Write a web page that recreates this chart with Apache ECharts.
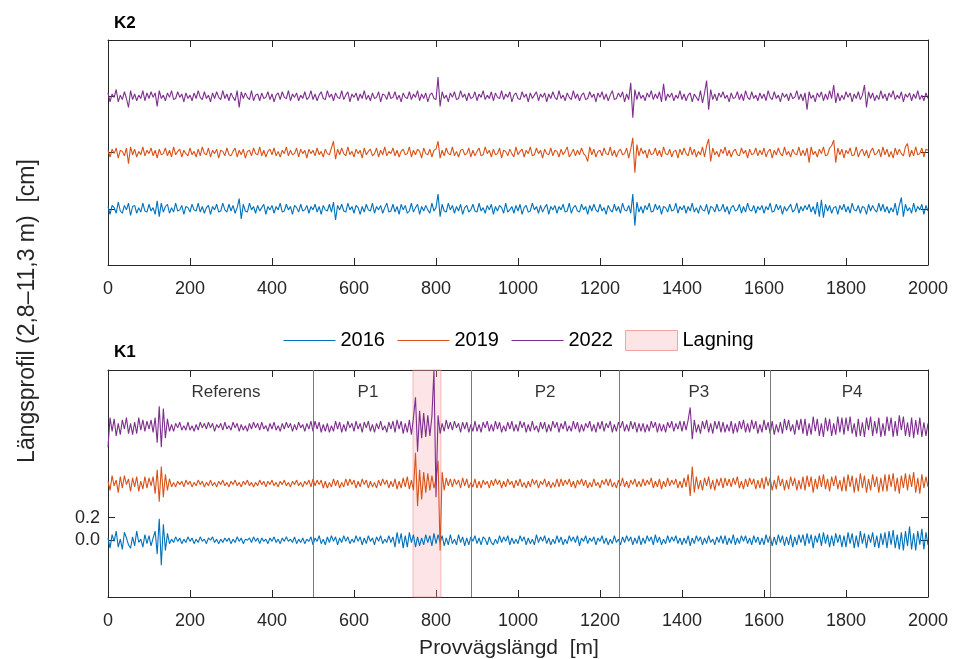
<!DOCTYPE html>
<html>
<head>
<meta charset="utf-8">
<script src="https://cdn.jsdelivr.net/npm/echarts@6/dist/echarts.min.js"></script>
<style>
  html, body { margin: 0; background: #fff; }
  #chart { width: 954px; height: 659px; }
</style>
</head>
<body>
<div id="chart"></div>
<script>
// sample spacing along the test road [m]
const STEP = 5
// profile values in 1/100 cm, one sample every STEP m from 0 to 2000 m (401 values)

const k2_2016 = [
  2,-5,3,1,-4,6,-2,-4,3,-1,5,-6,2,3,-4,1,-3,5,-2,-3,
  4,-2,1,-5,7,-7,5,-3,2,4,-4,1,-3,5,-2,-1,3,-5,2,1,
  -3,4,-1,-2,5,-3,2,-4,1,3,-5,2,-1,4,-3,-2,5,-1,-3,4,
  -2,3,-4,1,9,-9,4,-2,-3,5,-1,2,-4,3,-2,1,4,-5,2,-1,
  3,-4,2,-1,5,-3,-2,4,-1,2,-5,3,1,-3,4,-2,-1,3,-4,2,
  -1,4,-3,2,-5,3,-1,-2,4,-3,6,-10,3,-1,4,-2,-3,5,-1,2,
  -4,3,1,-5,2,-3,4,-1,-2,5,-4,2,-1,3,-4,1,5,-3,-2,4,
  -3,2,-5,4,-1,3,-4,-2,5,-3,1,4,-5,2,-2,3,-1,-4,5,-2,
  1,13,-7,4,-2,-3,5,-1,3,-4,2,-2,4,-5,1,3,-3,-1,4,-2,
  -3,5,-2,1,-4,3,-1,4,-5,2,-2,3,1,-4,5,-3,-1,2,-4,3,
  -2,4,-5,1,3,-3,-2,5,-1,2,-4,3,-3,1,4,-5,2,-1,3,-4,
  2,-1,4,-3,-2,5,-4,1,3,-2,-3,4,-1,2,-5,3,-2,4,-1,-3,
  4,-2,1,-5,3,-1,-3,4,-2,2,-4,5,-1,-2,3,-4,13,-15,6,-3,
  2,-4,3,-1,5,-3,-2,4,-1,3,-5,2,1,-3,4,-2,-1,5,-4,2,
  -1,3,-4,2,-2,5,-3,1,-4,3,-1,-2,4,-5,2,1,-3,4,-2,-1,
  4,-3,2,-5,1,3,-2,-1,4,-4,2,-3,5,-1,-2,3,-4,2,-1,3,
  -4,2,-1,5,-3,-2,4,-1,3,-5,2,-2,1,4,-3,-1,5,-4,2,-2,
  3,-1,4,-3,2,-5,6,-7,8,-8,4,-2,3,-4,1,2,-5,3,-1,4,
  -3,2,-4,5,-1,-2,3,-4,2,1,-5,4,-2,3,-1,-3,5,-2,4,-3,
  2,-4,1,-3,5,-6,3,10,-7,4,-2,1,-4,5,-3,2,-1,4,-5,3,
  -2
]

const k2_2019 = [
  2,-4,3,-1,4,-5,2,1,-3,4,-10,5,-2,3,-4,1,-2,5,-3,2,
  -1,4,-3,2,-5,3,-2,-1,4,-3,2,-4,5,-2,1,3,-4,2,-1,-3,
  4,-2,1,-4,3,-3,5,-1,-2,4,-4,2,-1,3,-5,2,1,-3,4,-2,
  -3,1,4,-4,2,-2,3,-5,1,2,-3,4,-1,-2,5,-3,2,-4,1,3,
  -2,4,-3,1,-4,2,-1,5,-3,2,-2,-1,4,-4,3,-1,2,-5,3,-1,
  2,-3,4,-2,1,-4,3,-1,-2,4,10,-6,3,-2,4,-1,-3,5,-2,1,
  -4,3,-1,2,-5,4,-2,1,3,-3,-1,4,-4,2,-2,5,-3,1,-1,4,
  -3,2,-4,1,3,-2,-1,5,-4,2,-2,3,1,-5,4,-1,-2,3,-4,2,
  3,10,-5,2,-3,4,-1,-2,5,-3,1,-4,2,3,-2,-1,4,-4,2,-3,
  1,4,-3,-2,5,-1,2,-4,3,-2,-1,4,-5,2,1,-3,3,-1,-4,5,
  -2,1,3,-4,2,-1,5,-3,-2,4,-1,2,-5,3,-1,-2,4,-3,2,1,
  -4,3,-2,1,5,-4,-1,3,-3,2,-2,4,-1,-3,-8,5,-2,3,-4,1,
  2,-3,4,-1,-2,5,-3,2,-4,1,3,-2,-1,4,-5,3,13,-18,7,-3,
  4,-1,2,-5,3,-2,-1,4,-3,2,-4,5,-1,-2,3,-4,1,2,-5,3,
  -2,4,-1,-3,5,-2,3,-4,1,-2,5,-4,6,12,-8,4,-2,1,-4,3,
  -1,5,-3,2,-4,1,3,-2,-3,4,-1,2,-5,3,-2,-1,4,-3,2,-2,
  4,-4,1,3,-5,2,-2,4,-1,-3,5,-2,1,-4,3,-1,-2,5,-3,2,
  -3,4,-9,5,-2,1,-4,3,-1,5,-3,-2,4,6,11,-9,4,-2,3,-5,
  2,-1,4,-3,-2,5,-4,1,3,-3,2,-5,1,4,-2,-1,3,-4,5,-2,
  3,-4,1,-5,4,-2,3,-1,-3,5,8,-4,2,-3,5,-2,-1,4,-4,3,
  2
]

const k2_2022 = [
  3,-5,2,-1,6,-5,1,-3,4,-2,-10,5,-3,2,-4,1,-2,5,-4,3,
  -2,4,-1,3,-9,5,-2,1,-4,3,-1,5,-3,-2,4,-1,2,-5,3,-2,
  1,-4,3,-2,5,-1,-3,4,-2,1,-5,3,-2,4,-1,-3,5,-2,2,-4,
  3,-1,-4,5,-10,4,-2,3,-1,-3,5,-4,1,2,-4,3,-2,-1,4,-3,
  2,-5,1,3,-3,4,-1,-2,5,-4,2,-1,3,-4,1,-2,4,-3,-1,5,
  -3,2,-4,1,4,-2,-3,5,-1,2,-4,3,-1,-2,5,-3,1,4,-5,2,
  -1,3,-4,2,-2,5,-3,1,-4,3,-2,-1,4,-5,2,1,-3,4,-2,-1,
  4,-3,1,-5,3,-1,-2,4,-3,2,-1,5,-4,2,-2,3,-5,1,3,-2,
  -3,17,-9,4,-2,1,-5,3,-1,4,-3,-2,5,-1,2,-4,3,-2,-1,4,
  -4,2,-1,5,-3,1,-2,4,-4,3,-1,-2,5,-3,2,-1,4,-5,1,3,
  -2,-3,4,-1,2,-5,3,-2,1,4,-4,2,-1,3,-5,2,-2,4,-1,-3,
  5,-2,1,-4,3,-1,-3,5,-2,2,-4,1,3,-3,-2,4,-1,2,-5,3,
  -1,4,-3,2,-4,1,5,-3,-2,3,-1,4,-5,2,-3,12,-19,6,-3,4,
  -2,1,-4,3,-1,5,-3,2,-2,4,-5,11,-4,2,-1,3,-4,1,-2,5,
  -3,2,-4,1,3,-5,2,-1,-4,5,-6,3,14,-12,6,-3,2,-4,3,-1,
  4,-2,1,-5,3,-2,-1,4,-3,2,-4,5,-1,-3,4,-2,1,-4,3,-2,
  2,-4,5,-1,-3,4,-2,1,-5,3,-1,2,-4,3,-2,-1,5,-3,2,-4,
  3,-12,4,-2,1,-5,3,-1,4,-4,2,-3,5,-2,10,-6,3,-4,1,-3,
  4,-1,3,-5,2,-2,4,-3,1,10,-10,4,-2,3,-4,1,-3,5,-2,2,
  -4,3,-1,5,-3,1,-2,4,-5,2,-1,3,-4,2,-2,5,-3,1,-4,3,
  -2
]

const k1_2016 = [
  2,-7,5,-1,8,-6,1,-8,7,2,-4,-7,3,-5,8,-2,1,-6,5,-3,
  4,-5,2,8,-12,19,-22,14,-9,6,-3,1,-2,3,-1,2,-3,1,-2,3,
  -1,2,-3,1,-2,3,-1,1,-3,2,0,3,-2,1,-3,1,-2,2,-1,2,
  -3,1,-2,3,-1,2,-3,1,0,2,-2,3,-1,2,-3,2,-1,1,-3,2,
  -1,3,-2,1,-3,2,-1,3,-1,1,-2,3,-3,1,-2,2,-3,1,-1,3,
  -4,2,-1,4,-3,1,-4,3,-2,4,-1,3,-4,2,-2,4,-1,3,-3,1,
  -2,4,-1,3,-4,2,-3,4,-1,2,-4,3,-1,4,-3,1,-2,4,-2,3,
  -6,7,-3,6,-7,4,-6,7,-2,5,-6,3,-5,2,-4,5,-2,4,-5,6,
  -3,5,-2,4,-5,2,-4,5,-3,1,-4,5,-2,3,-5,2,-4,3,-1,4,
  -3,2,-4,3,1,-4,3,-2,-4,1,-3,4,-2,3,-1,4,-4,2,-3,1,
  -3,4,-1,3,-4,2,-3,1,-4,5,-2,3,-1,4,-3,2,-4,1,-3,4,
  -2,3,-4,1,-3,4,-1,3,-2,4,-5,2,-1,4,-3,2,-1,3,-4,2,
  -1,4,-3,2,-4,1,-3,4,-2,1,-4,3,-2,4,-1,3,-4,2,-3,4,
  -4,2,-3,4,-1,3,-4,5,-2,3,-4,1,-3,4,-2,3,-1,4,-3,2,
  -4,2,-3,4,-5,2,-3,4,-1,3,-4,2,-3,4,-2,1,-4,3,-2,4,
  -3,4,-4,2,-3,5,-4,2,-3,4,-1,4,-3,2,-4,4,-2,3,-4,2,
  -4,5,-2,4,-5,3,-4,5,-2,4,-5,3,-4,5,-6,3,-4,5,-2,5,
  -5,6,-3,5,-7,4,-2,6,-5,7,-3,5,-6,4,-5,6,-2,5,-6,4,
  -6,7,-3,6,-7,4,-6,8,-3,6,-7,5,-2,7,-6,4,-7,6,-4,7,
  -7,8,-4,9,-7,5,-8,7,-9,8,-5,12,-8,6,-9,8,-4,10,-8,7,
  -4
]

const k1_2019 = [
  2,-6,7,-2,3,-8,6,-4,7,-1,4,-7,5,-3,6,-7,2,-5,6,-4,
  5,-2,6,-9,12,-16,15,-12,8,-6,4,-3,1,-3,2,-1,2,-3,3,-1,
  2,-3,1,-2,3,-1,2,-3,1,-2,3,-2,1,-3,2,-1,3,-2,1,-3,
  2,-1,3,-2,1,-3,2,-1,3,-2,1,-3,1,-2,3,-1,2,-3,2,-1,
  3,-2,1,-3,2,-1,3,-2,1,-3,2,-1,3,-2,1,-3,2,-1,3,-3,
  4,-2,3,-1,3,-4,2,-4,1,-3,4,-2,3,-4,1,-3,4,-2,4,-1,
  3,-4,2,-3,4,-1,3,-4,2,-3,1,-4,3,-2,4,-1,3,-4,2,-3,
  4,-5,2,-4,5,-3,6,-5,3,-6,27,-20,12,-14,10,-8,9,-6,7,-4,
  4,20,-59,10,-6,5,-2,4,-3,4,-1,3,-4,5,-2,4,-4,1,-3,4,
  -4,2,-4,3,-1,2,-4,3,-2,4,-1,3,-4,2,-3,4,-1,2,-4,3,
  -2,4,-3,1,-4,2,-3,4,-1,3,-4,2,-1,4,-3,2,-4,1,-3,4,
  -3,4,-2,3,-1,4,-3,2,-4,3,-1,4,-2,3,-4,1,-3,4,-2,1,
  -4,3,-1,4,-2,4,-3,1,-4,3,-2,5,-3,2,-4,3,-1,4,-3,2,
  -3,4,-2,3,-1,5,-4,2,-3,4,-5,2,-3,5,-2,3,-1,4,-4,2,
  -4,5,-3,8,-11,15,-8,6,-5,3,-6,5,-2,6,-5,3,-6,4,-2,5,
  -4,5,-2,4,-3,5,-1,6,-4,2,-5,4,-3,5,-1,4,-5,3,-4,5,
  -5,6,-2,5,-6,3,-5,7,-2,4,-6,3,-5,6,-2,5,-6,3,-5,6,
  -6,7,-3,6,-8,4,-5,7,-3,8,-5,4,-7,6,-2,7,-5,3,-7,6,
  -7,8,-3,7,-8,5,-7,9,-4,7,-8,4,-6,8,-3,6,-8,5,-7,8,
  -7,8,-3,9,-7,5,-9,7,-4,9,-6,8,-3,10,-8,5,-9,8,-4,6,
  -3
]

const k1_2022 = [
  -18,8,-4,7,-8,3,-7,6,-2,8,-6,3,-7,4,-6,8,-3,6,-4,5,
  -2,6,-5,8,-14,18,-18,16,-10,7,-4,2,-4,3,-1,4,-3,1,-3,4,
  -3,1,-4,2,-3,4,-1,3,-2,4,-1,3,-4,2,-1,3,-3,4,-2,1,
  -3,4,-1,3,-4,2,-3,1,-4,3,-2,4,-1,3,-3,4,-2,1,-4,3,
  -2,4,-3,1,-4,3,-2,4,-1,3,-4,2,-3,4,-1,2,-4,3,-2,5,
  -4,5,-2,4,-5,2,-4,3,-5,1,-4,5,-2,4,-5,2,-4,5,-1,3,
  -4,5,-2,3,-5,4,-1,5,-4,2,-5,3,-2,5,-3,1,-5,4,-2,5,
  -5,6,-2,5,-6,3,-5,6,-7,8,26,-22,14,-10,12,-9,10,-8,9,50,
  -62,10,-6,3,-4,6,-2,4,-3,5,-1,3,-5,4,-2,4,-5,2,-4,5,
  -4,2,-5,4,-1,5,-4,2,-4,5,-2,4,-5,1,-4,4,-2,5,-4,2,
  -4,5,-1,4,-5,2,-4,5,-3,1,-5,4,-2,4,-5,2,-4,5,-1,4,
  -5,3,-2,5,-4,1,-4,5,-2,4,-5,2,-4,3,-1,5,-4,2,-5,4,
  -2,5,-4,3,-1,5,-5,2,-4,4,-1,5,-4,2,-4,5,-2,4,-5,3,
  -4,3,-5,2,-4,5,-1,4,-5,3,-4,2,-5,4,-1,5,-4,3,-2,5,
  -4,5,-3,6,17,-11,6,-5,2,-6,5,-2,6,-5,3,-6,5,-2,5,-5,
  4,-5,2,-4,5,-6,3,-5,5,-2,6,-5,3,-5,6,-2,5,-6,2,-5,
  6,-3,4,-6,5,-7,2,-5,4,-6,7,-3,6,-4,2,-7,6,-3,7,-6,
  7,-8,3,-7,9,-4,7,-8,3,-9,8,-4,7,-8,3,-7,9,-5,8,-7,
  8,-4,9,-6,3,-9,7,-8,4,-9,8,-3,9,-8,5,-6,8,-9,3,-8,
  9,-4,8,-9,5,-8,10,-3,9,-8,4,-9,8,-10,6,-7,8,-9,4,-8,
  3
]

const years = ['2016', '2019', '2022']
const k2Series = [k2_2016, k2_2019, k2_2022]
const k1Series = [k1_2016, k1_2019, k1_2022]
const colors = ['#0072BD', '#D95319', '#7E2F8E']
// vertical stacking of the years on the plot [cm]
const offsets = [0, 0.5, 1.0]

const sectionBounds = [500, 886, 1247, 1615]
const sectionNames = ['Referens', 'P1', 'P2', 'P3', 'P4']
const sectionLabelX = [288, 634, 1066, 1441, 1815]
const lagningRange = [744, 812]

const INK = '#262626'
const FONT = '"Liberation Sans", Arial, sans-serif'

function toPoints(arr, off) {
  return arr.map((v, i) => [i * STEP, v / 100 + off])
}

function xAxisPair(gridIndex) {
  const base = {
    gridIndex,
    type: 'value',
    min: 0,
    max: 2000,
    interval: 200,
    splitLine: { show: false },
    axisLine: { show: true, onZero: false, lineStyle: { color: INK, width: 1 } },
    axisTick: { show: true, inside: true, length: 7, lineStyle: { color: INK } },
  }
  return [
    {
      ...base, position: 'bottom',
      axisLabel: { show: true, formatter: v => String(v), fontSize: 18, color: INK, fontFamily: FONT, margin: 15 },
    },
    { ...base, position: 'top', axisLabel: { show: false } },
  ]
}

function yAxisPair(gridIndex, ticks, labels) {
  const base = {
    gridIndex,
    type: 'value',
    min: -0.5,
    max: 1.5,
    splitLine: { show: false },
    axisLine: { show: true, onZero: false, lineStyle: { color: INK, width: 1 } },
    axisTick: { show: true, inside: true, length: 7, customValues: ticks, lineStyle: { color: INK } },
  }
  return [
    {
      ...base,
      position: 'left',
      axisLabel: labels
        ? { show: true, customValues: ticks, formatter: v => v.toFixed(1), fontSize: 18, color: INK, fontFamily: FONT, margin: 8 }
        : { show: false },
    },
    { ...base, position: 'right', axisLabel: { show: false } },
  ]
}

const lineSeries = []
k2Series.forEach((arr, i) => {
  lineSeries.push({
    name: years[i], type: 'line', xAxisIndex: 0, yAxisIndex: 0,
    data: toPoints(arr, offsets[i]), symbol: 'none', showSymbol: false,
    lineStyle: { width: 1.1, color: colors[i] }, itemStyle: { color: colors[i] },
    silent: true, z: 3,
  })
})
k1Series.forEach((arr, i) => {
  lineSeries.push({
    name: years[i], type: 'line', xAxisIndex: 2, yAxisIndex: 2,
    data: toPoints(arr, offsets[i]), symbol: 'none', showSymbol: false,
    lineStyle: { width: 1.1, color: colors[i] }, itemStyle: { color: colors[i] },
    silent: true, z: 3,
  })
})

const titleStyle = { fontSize: 17, fontWeight: 'bold', color: '#000', fontFamily: '"Liberation Sans Narrow", "Liberation Sans", Arial, sans-serif' }

const option = {
  animation: false,
  backgroundColor: '#fff',
  textStyle: { fontFamily: FONT },
  title: [
    { text: 'K2', left: 114, top: 15, padding: 0, textStyle: titleStyle },
    { text: 'K1', left: 114, top: 344, padding: 0, textStyle: titleStyle },
  ],
  legend: {
    left: 283,
    top: 330,
    padding: 0,
    itemWidth: 52,
    itemHeight: 20,
    itemGap: 12,
    textStyle: { fontSize: 20, color: '#000', fontFamily: FONT },
    data: [
      ...years.map(y => ({ name: y, itemStyle: { opacity: 0 }, lineStyle: { width: 1 } })),
      { name: 'Lagning', icon: 'rect', itemStyle: { color: '#FDE4E5', borderColor: '#F4A3A6', borderWidth: 1 } },
    ],
  },
  grid: [
    { left: 108, top: 40, width: 820, height: 225, outerBoundsMode: 'none', containLabel: false },
    { left: 108, top: 370, width: 820, height: 227, outerBoundsMode: 'none', containLabel: false },
  ],
  xAxis: [...xAxisPair(0), ...xAxisPair(1)],
  yAxis: [...yAxisPair(0, [0, 0.5, 1], false), ...yAxisPair(1, [0, 0.2], true)],
  graphic: [
    {
      type: 'text', x: 28, y: 311, rotation: Math.PI / 2, silent: true,
      style: { text: 'Längsprofil (2,8–11,3 m)  [cm]', fontSize: 23, fill: INK, fontFamily: FONT, textAlign: 'center', textVerticalAlign: 'middle' },
    },
    {
      type: 'text', x: 509, y: 648, silent: true,
      style: { text: 'Provvägslängd  [m]', fontSize: 21, fill: INK, fontFamily: FONT, textAlign: 'center', textVerticalAlign: 'middle' },
    },
  ],
  series: [
    {
      name: 'Lagning', type: 'line', xAxisIndex: 2, yAxisIndex: 2, data: [], silent: true, z: 1,
      itemStyle: { color: '#FDE4E5' },
      markArea: {
        silent: true,
        itemStyle: { color: 'rgba(249,170,175,0.3)', borderColor: 'rgba(240,130,135,0.55)', borderWidth: 1 },
        data: [[{ xAxis: lagningRange[0] }, { xAxis: lagningRange[1] }]],
      },
      markLine: {
        silent: true,
        symbol: ['none', 'none'],
        label: { show: false },
        lineStyle: { color: '#7a7a7a', width: 1, type: 'solid' },
        data: sectionBounds.map(x => ({ xAxis: x })),
      },
    },
    ...lineSeries,
    {
      name: 'sections', type: 'scatter', xAxisIndex: 2, yAxisIndex: 2, silent: true,
      symbolSize: 1, itemStyle: { color: 'rgba(0,0,0,0)' },
      data: sectionNames.map((n, i) => ({ value: [sectionLabelX[i], 1.3], name: n })),
      label: { show: true, position: 'inside', formatter: p => p.name, fontSize: 17, color: '#000', fontFamily: FONT },
    },
  ],
}

const chart = echarts.init(document.getElementById('chart'), null, { renderer: 'canvas' })
chart.setOption(option)
</script>
</body>
</html>
